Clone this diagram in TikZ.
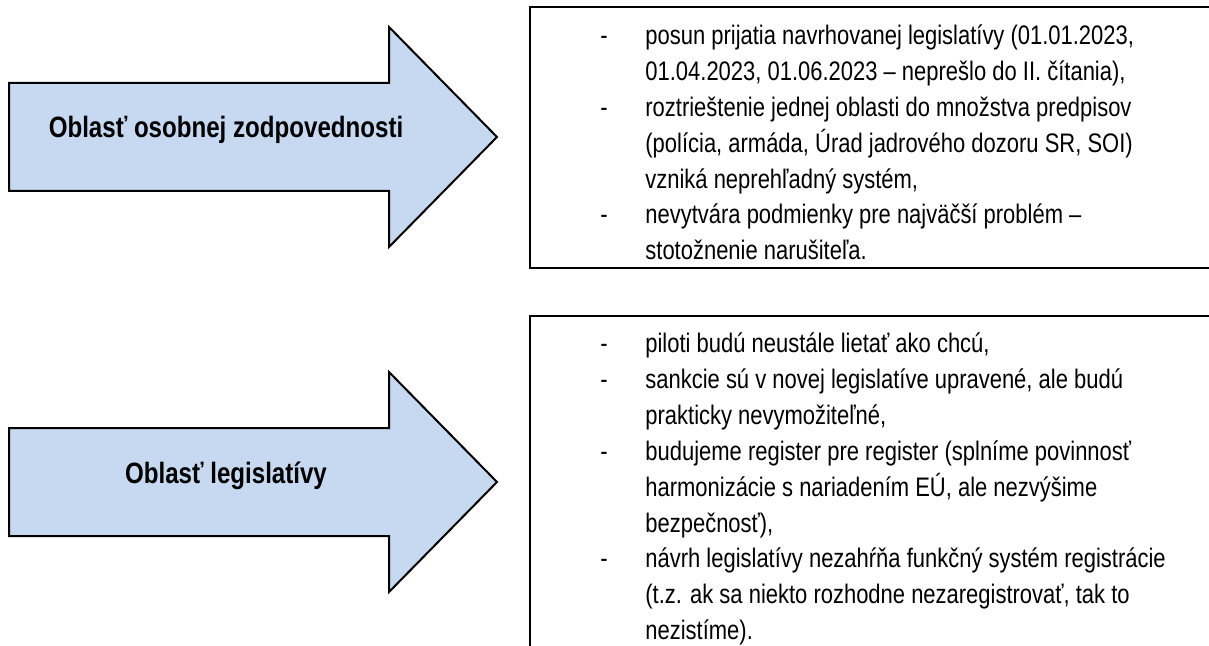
\documentclass[tikz,border=0pt]{standalone}
\usepackage{fontspec}
\usepackage{xcolor}
\usetikzlibrary{positioning}
\newfontfamily\narrowfont[FakeStretch=0.82]{Liberation Sans}
\definecolor{arrowblue}{RGB}{198,217,241}
\tikzset{
  arrowline/.style={draw=black, fill=arrowblue, line width=1pt, line join=miter},
  arrowtext/.style={anchor=base, inner sep=0pt, font=\narrowfont\bfseries\fontsize{14.7}{17}\selectfont},
  boxline/.style={draw=black, line width=1pt},
  listtext/.style={anchor=base west, inner sep=0pt, align=left, font=\narrowfont\fontsize{13.4}{17.9}\selectfont}
}
\newcommand{\areaarrow}[3]{
  % #1 = middle of the arrow, #2 = name, #3 = label
  \draw[arrowline] (9,#1-\sh) -- (389,#1-\sh) -- (389,#1-\hh) -- (497,#1)
     -- (389,#1+\hh) -- (389,#1+\sh) -- (9,#1+\sh) -- cycle;
  \node[arrowtext] (#2) at (226,#1+1) {#3};
}
\begin{document}
\begin{tikzpicture}[x=0.5pt,y=-0.5pt]
\useasboundingbox (0,0) rectangle (1209,646);
\def\sh{54}
\def\hh{110}
%arrows on the left:
\foreach \cy/\nm/\txt in {137/oblA/{Oblasť osobnej zodpovednosti}, 482/oblB/{Oblasť legislatívy}} {
  \areaarrow{\cy}{\nm}{\txt}
}
%boxes on the right (they run past the page edge)
\draw[boxline] (530,7) rectangle (1215,268);
\draw[boxline] (530,316) rectangle (1215,660);
\node[listtext] (listA) at (600,45) {\begin{tabular}[t]{@{}p{22.5pt}@{}l@{}}
- & posun prijatia navrhovanej legislatívy (01.01.2023,\\
  & 01.04.2023, 01.06.2023 – neprešlo do II. čítania),\\
- & roztrieštenie jednej oblasti do množstva predpisov\\
  & (polícia, armáda, Úrad jadrového dozoru SR, SOI)\\
  & vzniká neprehľadný systém,\\
- & nevytvára podmienky pre najväčší problém –\\
  & stotožnenie narušiteľa.
\end{tabular}};
\node[listtext] (listB) at (600,353) {\begin{tabular}[t]{@{}p{22.5pt}@{}l@{}}
- & piloti budú neustále lietať ako chcú,\\
- & sankcie sú v novej legislatíve upravené, ale budú\\
  & prakticky nevymožiteľné,\\
- & budujeme register pre register (splníme povinnosť\\
  & harmonizácie s nariadením EÚ, ale nezvýšime\\
  & bezpečnosť),\\
- & návrh legislatívy nezahŕňa funkčný systém registrácie\\
  & (t.z. ak sa niekto rozhodne nezaregistrovať, tak to\\
  & nezistíme).
\end{tabular}};
\end{tikzpicture}
\end{document}
